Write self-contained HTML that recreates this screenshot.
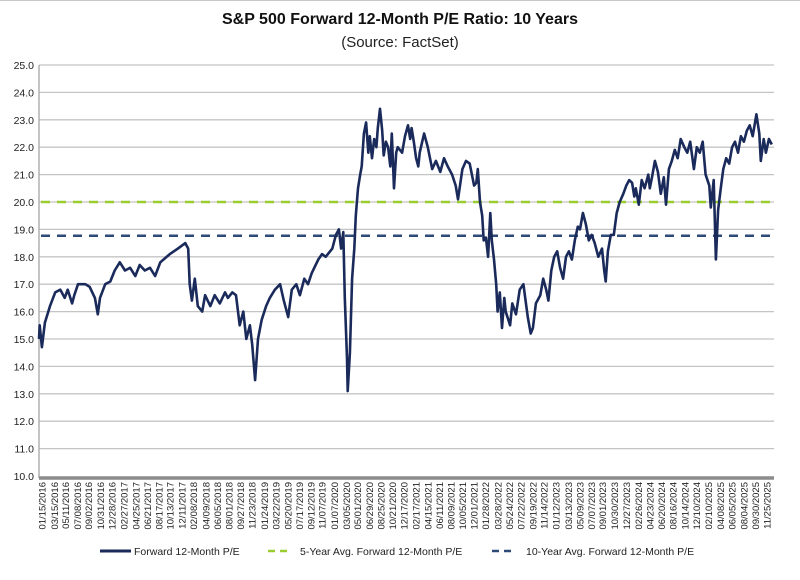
<!DOCTYPE html>
<html><head><meta charset="utf-8"><style>
html,body{margin:0;padding:0;background:#fff}
svg{display:block;font-family:"Liberation Sans",Arial,sans-serif}
</style></head><body>
<svg id="chart" width="800" height="580" viewBox="0 0 800 580">
<rect x="0" y="0" width="800" height="580" fill="#fff"/>
<line x1="0" y1="0.5" x2="800" y2="0.5" stroke="#c8c8c8" stroke-width="1"/>
<text x="400" y="24" text-anchor="middle" font-size="16" font-weight="bold" fill="#111">S&amp;P 500 Forward 12-Month P/E Ratio: 10 Years</text>
<text x="400" y="47" text-anchor="middle" font-size="15" fill="#222">(Source: FactSet)</text>
<g id="grid"></g>
<g id="yticks"></g>
<g id="xticks"></g>
<g id="avgs"></g>
<g id="series"></g>
<g>
  <g>
    <line x1="100" y1="551" x2="131" y2="551" stroke="#1a2a5a" stroke-width="3"/>
    <text x="134" y="555" font-size="10.5" fill="#222">Forward 12-Month P/E</text>
  </g>
  <g>
    <line x1="268" y1="551" x2="292" y2="551" stroke="#9acd32" stroke-width="2.5" stroke-dasharray="7,5"/>
    <text x="300" y="555" font-size="10.5" fill="#222">5-Year Avg. Forward 12-Month P/E</text>
  </g>
  <g>
    <line x1="492" y1="551" x2="516" y2="551" stroke="#2e4a78" stroke-width="2.5" stroke-dasharray="7,5"/>
    <text x="526" y="555" font-size="10.5" fill="#222">10-Year Avg. Forward 12-Month P/E</text>
  </g>
</g>
</svg>
<script>
const yTicks=[10,11,12,13,14,15,16,17,18,19,20,21,22,23,24,25];
const xTickLabels=["01/15/2016","03/15/2016","05/11/2016","07/08/2016","09/02/2016","10/31/2016","12/28/2016","02/27/2017","04/25/2017","06/21/2017","08/17/2017","10/13/2017","12/11/2017","02/08/2018","04/09/2018","06/05/2018","08/01/2018","09/27/2018","11/23/2018","01/24/2019","03/22/2019","05/20/2019","07/17/2019","09/12/2019","11/07/2019","01/07/2020","03/05/2020","05/01/2020","06/29/2020","08/25/2020","10/21/2020","12/17/2020","02/17/2021","04/15/2021","06/11/2021","08/09/2021","10/05/2021","12/01/2021","01/28/2022","03/28/2022","05/24/2022","07/22/2022","09/19/2022","11/14/2022","01/12/2023","03/13/2023","05/09/2023","07/07/2023","09/01/2023","10/30/2023","12/27/2023","02/26/2024","04/23/2024","06/20/2024","08/16/2024","10/14/2024","12/10/2024","02/10/2025","04/08/2025","06/05/2025","08/04/2025","09/30/2025","11/25/2025"];
const dates=[2016.00,2016.01,2016.04,2016.08,2016.15,2016.22,2016.29,2016.35,2016.39,2016.45,2016.48,2016.53,2016.63,2016.69,2016.76,2016.80,2016.83,2016.90,2016.97,2017.03,2017.10,2017.17,2017.24,2017.31,2017.37,2017.44,2017.51,2017.58,2017.65,2017.78,2017.89,2017.99,2018.03,2018.05,2018.08,2018.12,2018.16,2018.22,2018.26,2018.33,2018.39,2018.46,2018.53,2018.57,2018.63,2018.68,2018.73,2018.78,2018.82,2018.87,2018.90,2018.94,2018.98,2019.03,2019.09,2019.14,2019.21,2019.28,2019.33,2019.39,2019.44,2019.50,2019.55,2019.61,2019.66,2019.71,2019.80,2019.85,2019.90,2019.99,2020.04,2020.08,2020.11,2020.14,2020.16,2020.19,2020.20,2020.23,2020.26,2020.29,2020.31,2020.34,2020.37,2020.39,2020.42,2020.45,2020.48,2020.50,2020.53,2020.56,2020.59,2020.61,2020.64,2020.67,2020.69,2020.72,2020.75,2020.78,2020.80,2020.83,2020.86,2020.88,2020.94,2020.98,2021.02,2021.05,2021.07,2021.10,2021.13,2021.16,2021.18,2021.24,2021.29,2021.35,2021.40,2021.46,2021.51,2021.56,2021.62,2021.67,2021.70,2021.76,2021.81,2021.86,2021.92,2021.95,2021.97,2022.00,2022.03,2022.05,2022.08,2022.11,2022.14,2022.16,2022.19,2022.22,2022.24,2022.27,2022.30,2022.33,2022.35,2022.41,2022.44,2022.49,2022.54,2022.59,2022.63,2022.65,2022.69,2022.72,2022.76,2022.82,2022.86,2022.90,2022.93,2022.97,2023.01,2023.05,2023.09,2023.13,2023.17,2023.21,2023.25,2023.29,2023.33,2023.36,2023.40,2023.44,2023.48,2023.52,2023.56,2023.61,2023.66,2023.69,2023.71,2023.74,2023.78,2023.82,2023.86,2023.90,2023.95,2023.99,2024.03,2024.07,2024.10,2024.12,2024.16,2024.20,2024.24,2024.29,2024.31,2024.34,2024.38,2024.42,2024.46,2024.50,2024.53,2024.57,2024.61,2024.65,2024.69,2024.73,2024.78,2024.82,2024.86,2024.88,2024.91,2024.95,2024.99,2025.03,2025.07,2025.12,2025.14,2025.18,2025.21,2025.24,2025.28,2025.31,2025.35,2025.39,2025.43,2025.47,2025.51,2025.55,2025.59,2025.63,2025.67,2025.71,2025.76,2025.80,2025.82,2025.86,2025.89,2025.93,2025.97];
const peValues=[15.0,15.5,14.7,15.6,16.2,16.7,16.8,16.5,16.8,16.3,16.6,17.0,17.0,16.9,16.5,15.9,16.5,17.0,17.1,17.5,17.8,17.5,17.6,17.3,17.7,17.5,17.6,17.3,17.8,18.1,18.3,18.5,18.3,17.0,16.4,17.2,16.2,16.0,16.6,16.2,16.6,16.3,16.7,16.5,16.7,16.6,15.5,16.0,15.0,15.5,14.8,13.5,15.0,15.7,16.2,16.5,16.8,17.0,16.4,15.8,16.8,17.0,16.6,17.2,17.0,17.4,17.9,18.1,18.0,18.3,18.8,19.0,18.3,18.9,16.5,14.3,13.1,14.5,17.2,18.3,19.5,20.5,21.0,21.3,22.5,22.9,21.8,22.4,21.6,22.3,22.0,22.7,23.4,22.6,21.7,22.2,22.0,21.3,22.5,20.5,21.8,22.0,21.8,22.4,22.8,22.3,22.7,22.2,21.6,21.3,21.8,22.5,22.0,21.2,21.5,21.1,21.6,21.3,21.0,20.6,20.1,21.2,21.5,21.4,20.6,20.7,21.2,20.0,19.5,18.6,18.7,18.0,19.6,18.6,17.9,17.0,16.0,16.7,15.4,16.5,16.0,15.5,16.3,15.9,16.8,17.0,16.2,15.8,15.2,15.4,16.3,16.6,17.2,16.8,16.4,17.5,18.0,18.2,17.6,17.2,18.0,18.2,17.9,18.6,19.1,19.0,19.6,19.2,18.6,18.8,18.5,18.0,18.3,17.5,17.1,18.2,18.8,18.8,19.6,20.0,20.3,20.6,20.8,20.7,20.2,20.5,19.9,20.8,20.5,21.0,20.5,20.9,21.5,21.1,20.3,20.9,19.9,21.2,21.5,21.9,21.6,22.3,22.0,21.8,22.2,21.8,21.2,22.0,21.8,22.2,21.0,20.6,19.8,20.8,17.9,19.7,20.6,21.2,21.6,21.4,22.0,22.2,21.8,22.4,22.2,22.6,22.8,22.4,23.2,22.5,21.5,22.3,21.8,22.3,22.1];
const avg5=[20.0];
const avg10=[18.77];

const NS="http://www.w3.org/2000/svg";
const L=39,R=774,T=65,B=476;
const xMin=2016.0,xMax=2026.0,yMin=10,yMax=25;
function xs(t){return L+(t-xMin)/(xMax-xMin)*(R-L);}
function ys(v){return B-(v-yMin)/(yMax-yMin)*(B-T);}
function mk(tag,attrs,parent){const e=document.createElementNS(NS,tag);for(const k in attrs)e.setAttribute(k,attrs[k]);parent.appendChild(e);return e;}
function parseDate(s){const p=s.split('/');const m=+p[0],d=+p[1],y=+p[2];return y+((m-1)*30.44+d)/365.25;}

const grid=document.getElementById('grid'),yt=document.getElementById('yticks'),xt=document.getElementById('xticks');
yTicks.forEach(v=>{
  if(v>yMin){const g=mk('line',{x1:L,x2:R,y1:ys(v),y2:ys(v),stroke:'#c4c4c4','stroke-width':1.3},grid);
  
  }
  const t=mk('text',{x:L-5,y:ys(v)+4,'text-anchor':'end','font-size':10.5,fill:'#222'},yt);
  t.textContent=v.toFixed(1);
  
  
});
const yAxis=mk('line',{x1:L,x2:L,y1:T,y2:B+2,stroke:'#b0b0b0','stroke-width':1.5},yt);


const xAxis=mk('line',{x1:L,x2:R,y1:B+2,y2:B+2,stroke:'#8c8c8c','stroke-width':3.5},xt);


xTickLabels.forEach(s=>{
  const x=xs(parseDate(s));
  const t=mk('text',{transform:`translate(${x+3.5},482) rotate(-90)`,'text-anchor':'end','font-size':9.5,fill:'#222'},xt);
  t.textContent=s;
  
  
});
const av=document.getElementById('avgs');
const a5=mk('line',{x1:L+2,x2:R,y1:ys(avg5[0]),y2:ys(avg5[0]),stroke:'#9acd32','stroke-width':2.5,'stroke-dasharray':'9,7'},av);


const a10=mk('line',{x1:L+2,x2:R,y1:ys(avg10[0]),y2:ys(avg10[0]),stroke:'#2e4a78','stroke-width':2.5,'stroke-dasharray':'9,7'},av);


const d=dates.map((t,i)=>(i?'L':'M')+xs(t).toFixed(1)+','+ys(peValues[i]).toFixed(1)).join(' ');
const p=mk('path',{d:d,fill:'none',stroke:'#1a2a5a','stroke-width':2.6,'stroke-linejoin':'round'},document.getElementById('series'));


</script>
</body></html>
